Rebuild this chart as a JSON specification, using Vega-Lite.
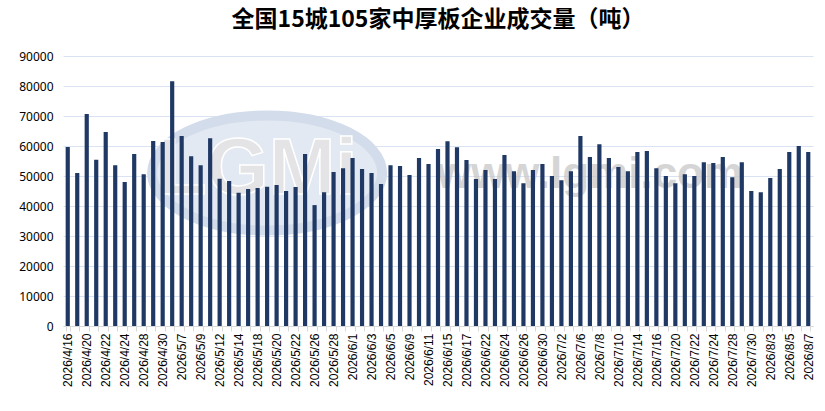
{
  "$schema": "https://vega.github.io/schema/vega-lite/v6.json",
  "width": 750,
  "height": 270,
  "autosize": {"type": "none"},
  "padding": {"left": 63, "top": 56, "right": 12, "bottom": 85},
  "background": "white",
  "title": {
    "text": "全国15城105家中厚板企业成交量（吨）",
    "font": "Noto Sans CJK SC",
    "fontSize": 23,
    "fontWeight": "bold",
    "color": "#000000",
    "offset": 18
  },
  "data": {
    "values": [
      {"date": "2026/4/16", "v": 59700},
      {"date": "2026/4/17", "v": 51000},
      {"date": "2026/4/20", "v": 70700},
      {"date": "2026/4/21", "v": 55400},
      {"date": "2026/4/22", "v": 64700},
      {"date": "2026/4/23", "v": 53600},
      {"date": "2026/4/24", "v": 48000},
      {"date": "2026/4/27", "v": 57300},
      {"date": "2026/4/28", "v": 50600},
      {"date": "2026/4/29", "v": 61700},
      {"date": "2026/4/30", "v": 61300},
      {"date": "2026/5/6", "v": 81600},
      {"date": "2026/5/7", "v": 63300},
      {"date": "2026/5/8", "v": 56600},
      {"date": "2026/5/9", "v": 53600},
      {"date": "2026/5/11", "v": 62600},
      {"date": "2026/5/12", "v": 49100},
      {"date": "2026/5/13", "v": 48300},
      {"date": "2026/5/14", "v": 44400},
      {"date": "2026/5/15", "v": 45700},
      {"date": "2026/5/18", "v": 46000},
      {"date": "2026/5/19", "v": 46400},
      {"date": "2026/5/20", "v": 47000},
      {"date": "2026/5/21", "v": 45000},
      {"date": "2026/5/22", "v": 46300},
      {"date": "2026/5/25", "v": 57300},
      {"date": "2026/5/26", "v": 40300},
      {"date": "2026/5/27", "v": 44600},
      {"date": "2026/5/28", "v": 51300},
      {"date": "2026/5/29", "v": 52600},
      {"date": "2026/6/1", "v": 56000},
      {"date": "2026/6/2", "v": 52300},
      {"date": "2026/6/3", "v": 51000},
      {"date": "2026/6/4", "v": 47300},
      {"date": "2026/6/5", "v": 53600},
      {"date": "2026/6/8", "v": 53300},
      {"date": "2026/6/9", "v": 50300},
      {"date": "2026/6/10", "v": 56000},
      {"date": "2026/6/11", "v": 54000},
      {"date": "2026/6/12", "v": 59000},
      {"date": "2026/6/15", "v": 61600},
      {"date": "2026/6/16", "v": 59600},
      {"date": "2026/6/17", "v": 55300},
      {"date": "2026/6/18", "v": 49000},
      {"date": "2026/6/22", "v": 52000},
      {"date": "2026/6/23", "v": 49000},
      {"date": "2026/6/24", "v": 57000},
      {"date": "2026/6/25", "v": 51600},
      {"date": "2026/6/26", "v": 47600},
      {"date": "2026/6/29", "v": 52000},
      {"date": "2026/6/30", "v": 54000},
      {"date": "2026/7/1", "v": 50000},
      {"date": "2026/7/2", "v": 48600},
      {"date": "2026/7/3", "v": 51600},
      {"date": "2026/7/6", "v": 63300},
      {"date": "2026/7/7", "v": 56300},
      {"date": "2026/7/8", "v": 60600},
      {"date": "2026/7/9", "v": 56000},
      {"date": "2026/7/10", "v": 53000},
      {"date": "2026/7/13", "v": 51600},
      {"date": "2026/7/14", "v": 58000},
      {"date": "2026/7/15", "v": 58300},
      {"date": "2026/7/16", "v": 52600},
      {"date": "2026/7/17", "v": 50000},
      {"date": "2026/7/20", "v": 47600},
      {"date": "2026/7/21", "v": 50600},
      {"date": "2026/7/22", "v": 50000},
      {"date": "2026/7/23", "v": 54600},
      {"date": "2026/7/24", "v": 54300},
      {"date": "2026/7/27", "v": 56300},
      {"date": "2026/7/28", "v": 49600},
      {"date": "2026/7/29", "v": 54600},
      {"date": "2026/7/30", "v": 45000},
      {"date": "2026/7/31", "v": 44600},
      {"date": "2026/8/3", "v": 49300},
      {"date": "2026/8/4", "v": 52300},
      {"date": "2026/8/5", "v": 58000},
      {"date": "2026/8/6", "v": 60000},
      {"date": "2026/8/7", "v": 58000}
    ]
  },
  "encoding": {
    "x": {
      "field": "date",
      "type": "nominal",
      "sort": null,
      "title": null,
      "scale": {"paddingInner": 0.56, "paddingOuter": 0.28},
      "axis": {
        "labelAngle": -90,
        "labelFont": "Liberation Sans",
        "labelFontSize": 12,
        "labelColor": "#000000",
        "labelPadding": 2,
        "labelOverlap": false,
        "labelExpr": "indexof(['2026/4/16','2026/4/20','2026/4/22','2026/4/24','2026/4/28','2026/4/30','2026/5/7','2026/5/9','2026/5/12','2026/5/14','2026/5/18','2026/5/20','2026/5/22','2026/5/26','2026/5/28','2026/6/1','2026/6/3','2026/6/5','2026/6/9','2026/6/11','2026/6/15','2026/6/17','2026/6/22','2026/6/24','2026/6/26','2026/6/30','2026/7/2','2026/7/6','2026/7/8','2026/7/10','2026/7/14','2026/7/16','2026/7/20','2026/7/22','2026/7/24','2026/7/28','2026/7/30','2026/8/3','2026/8/5','2026/8/7'], datum.label) >= 0 ? datum.label : ''",
        "tickBand": "extent",
        "tickSize": 5,
        "tickColor": "#d9d9d9",
        "domainColor": "#d9d9d9",
        "grid": false
      }
    }
  },
  "layer": [
    {
      "mark": {
        "type": "point",
        "filled": true,
        "shape": "M -1 0 A 1 0.5 0 1 1 1 0 A 1 0.5 0 1 1 -1 0 Z",
        "size": 52900,
        "color": "#e3e9f2",
        "stroke": "#d3dcea",
        "strokeWidth": 10
      },
      "encoding": {
        "y": {"datum": 51000, "type": "quantitative", "title": null},
        "opacity": {"condition": {"test": "datum.date == '2026/5/19'", "value": 1}, "value": 0}
      }
    },
    {
      "mark": {
        "type": "text",
        "font": "Liberation Sans",
        "fontSize": 80,
        "fontWeight": "bold",
        "color": "#e4e4e6",
        "stroke": "#ffffff",
        "strokeWidth": 1.5,
        "baseline": "middle"
      },
      "encoding": {
        "y": {"datum": 52000, "type": "quantitative", "title": null},
        "text": {"condition": {"test": "datum.date == '2026/5/18'", "value": "LGMi"}, "value": ""}
      }
    },
    {
      "mark": {
        "type": "text",
        "font": "Liberation Sans",
        "fontSize": 44,
        "fontWeight": "bold",
        "color": "#c4c4c4",
        "opacity": 0.7,
        "baseline": "middle"
      },
      "encoding": {
        "y": {"datum": 50200, "type": "quantitative", "title": null},
        "text": {"condition": {"test": "datum.date == '2026/7/7'", "value": "www.lgmi.com"}, "value": ""}
      }
    },
    {
      "mark": {"type": "bar", "color": "#1f3864"},
      "encoding": {
        "y": {
          "field": "v",
          "type": "quantitative",
          "title": null,
          "scale": {"domain": [0, 90000]}
        }
      }
    }
  ],
  "config": {
    "view": {"stroke": null},
    "numberFormat": "d",
    "axisY": {
      "domain": false,
      "ticks": false,
      "tickCount": 10,
      "labelFont": "Noto Sans",
      "labelFontSize": 12,
      "labelColor": "#000000",
      "labelPadding": 10,
      "grid": true,
      "gridColor": "#dae3f3",
      "gridWidth": 1
    }
  }
}
